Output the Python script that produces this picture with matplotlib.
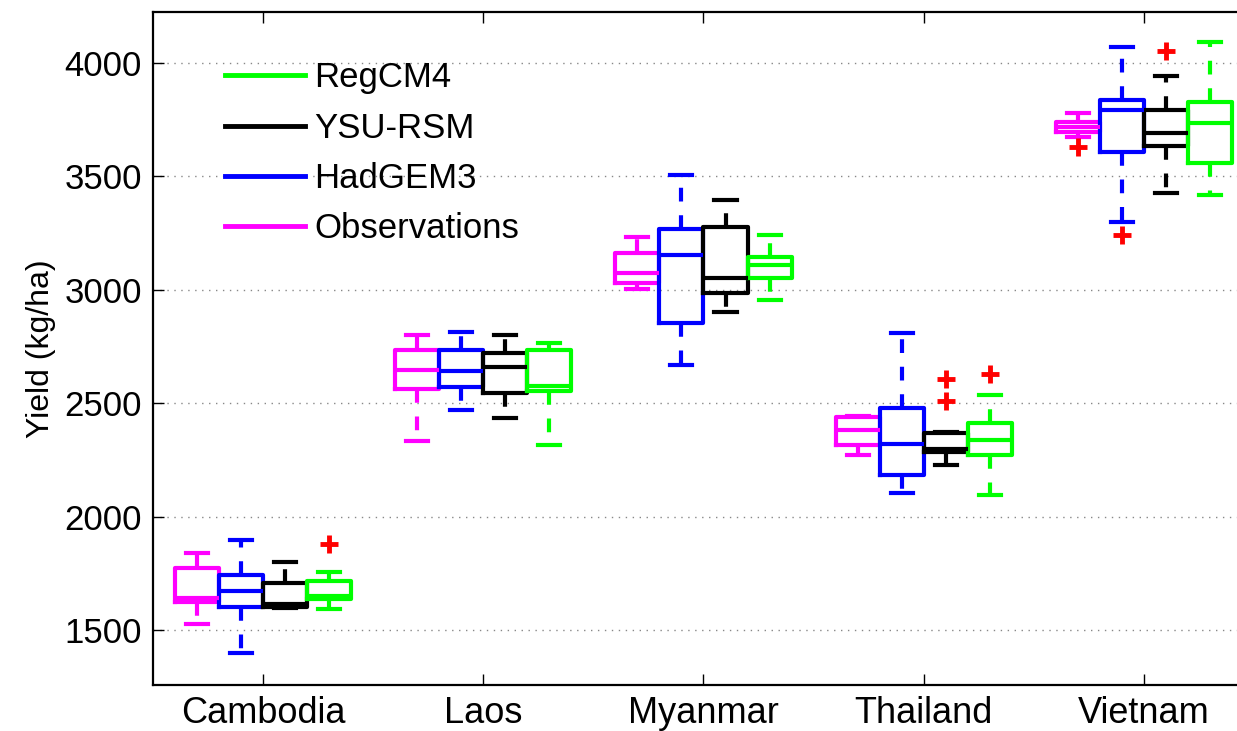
import matplotlib.pyplot as plt
from matplotlib.lines import Line2D

plt.rcParams['font.family'] = ['Liberation Sans', 'DejaVu Sans']

countries = ["Cambodia", "Laos", "Myanmar", "Thailand", "Vietnam"]
series = ["Observations", "HadGEM3", "YSU-RSM", "RegCM4"]
colors = ["#ff00ff", "#0000ff", "#000000", "#00ff00"]

# box statistics (kg/ha), one value per country
obs_whislo = [1527, 2333, 3004, 2272, 3675]
obs_q1 = [1624, 2563, 3029, 2316, 3697]
obs_med = [1641, 2646, 3074, 2382, 3719]
obs_q3 = [1774, 2735, 3164, 2441, 3741]
obs_whishi = [1840, 2801, 3233, 2445, 3778]
obs_fliers = [[], [], [], [], [3631]]

had_whislo = [1399, 2470, 2668, 2103, 3300]
had_q1 = [1601, 2571, 2855, 2184, 3609]
had_med = [1672, 2642, 3153, 2320, 3793]
had_q3 = [1743, 2735, 3268, 2478, 3837]
had_whishi = [1897, 2814, 3506, 2808, 4072]
had_fliers = [[], [], [], [], [3242]]

ysu_whislo = [1597, 2435, 2903, 2228, 3425]
ysu_q1 = [1603, 2545, 2986, 2286, 3634]
ysu_med = [1615, 2660, 3053, 2300, 3690]
ysu_q3 = [1707, 2721, 3277, 2370, 3793]
ysu_whishi = [1800, 2801, 3396, 2372, 3943]
ysu_fliers = [[], [], [], [2511, 2605], [4054]]

reg_whislo = [1593, 2316, 2955, 2095, 3418]
reg_q1 = [1637, 2554, 3052, 2272, 3558]
reg_med = [1650, 2576, 3109, 2338, 3734]
reg_q3 = [1716, 2735, 3145, 2414, 3829]
reg_whishi = [1756, 2765, 3242, 2536, 4094]
reg_fliers = [[1879], [], [], [2629], []]

all_stats = [
    (obs_whislo, obs_q1, obs_med, obs_q3, obs_whishi, obs_fliers),
    (had_whislo, had_q1, had_med, had_q3, had_whishi, had_fliers),
    (ysu_whislo, ysu_q1, ysu_med, ysu_q3, ysu_whishi, ysu_fliers),
    (reg_whislo, reg_q1, reg_med, reg_q3, reg_whishi, reg_fliers),
]
offsets = [-0.3, -0.1, 0.1, 0.3]

fig = plt.figure(figsize=(12.37, 7.31), dpi=100)
ax = fig.add_axes([0.1237, 0.063, 0.89, 0.9205])

lw = 3.0
for k, (lo, q1, med, q3, hi, fl) in enumerate(all_stats):
    stats = []
    for i in range(len(countries)):
        stats.append(dict(whislo=lo[i], q1=q1[i], med=med[i], q3=q3[i],
                          whishi=hi[i], fliers=fl[i]))
    pos = [i + 1 + offsets[k] for i in range(len(countries))]
    c = colors[k]
    ax.bxp(stats, positions=pos, widths=0.2, capwidths=0.1,
           boxprops=dict(color=c, linewidth=lw),
           medianprops=dict(color=c, linewidth=lw),
           whiskerprops=dict(color=c, linewidth=lw, linestyle=(0, (3.3, 3.3))),
           capprops=dict(color=c, linewidth=lw),
           flierprops=dict(marker='+', markeredgecolor='red', markersize=13,
                           markeredgewidth=3.5, linestyle='none'),
           manage_ticks=False)

ax.set_xlim(0.5, 5.5)
ax.set_ylim(1258, 4225)
ax.set_xticks(range(1, 6))
ax.set_xticklabels(countries)
ax.set_yticks([1500, 2000, 2500, 3000, 3500, 4000])
ax.tick_params(direction='in', length=8, width=1, labelsize=25,
               top=True, right=True)
ax.tick_params(axis='x', pad=8, labelsize=26)
ax.tick_params(axis='y', pad=8)
ax.yaxis.grid(True, linestyle=(0, (1, 4)), color='#888888', linewidth=1)
for s in ax.spines.values():
    s.set_linewidth(1.6)
ax.set_ylabel("Yield (kg/ha)", fontsize=23, labelpad=6)

handles = [Line2D([], [], color=colors[k], linewidth=3.5) for k in [3, 2, 1, 0]]
labels = [series[k] for k in [3, 2, 1, 0]]
ax.legend(handles, labels, loc='upper left', bbox_to_anchor=(0.171, 0.935),
          bbox_transform=fig.transFigure, frameon=False, fontsize=25,
          handlelength=2.3, handletextpad=0.25, labelspacing=0.5,
          borderaxespad=0)

fig.savefig("out.png", dpi=100)
